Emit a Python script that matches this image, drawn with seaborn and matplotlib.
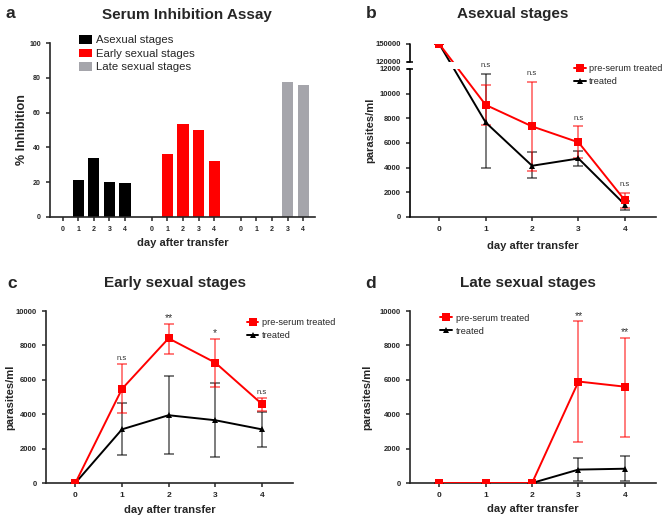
import numpy as np
import pandas as pd
import matplotlib
matplotlib.use("Agg")
import matplotlib.pyplot as plt
import seaborn as sns

# =========================
# data
# =========================
days = [0, 1, 2, 3, 4]

# a) % inhibition per stage group
inhib_asexual = [0, 21.5, 34, 20, 19.5]
inhib_early = [0, 36, 53.5, 50, 32]
inhib_late = [0, 0, 0, 77.5, 76]
stage_names = ["Asexual stages", "Early sexual stages", "Late sexual stages"]

# b) asexual stages
b_pre = [150000, 9080, 7340, 6050, 1350]
b_pre_lo = [150000, 7450, 3700, 4800, 700]
b_pre_hi = [150000, 10700, 10960, 7340, 1950]
b_trt = [150000, 7660, 4150, 4740, 1000]
b_trt_lo = [150000, 3960, 3190, 4120, 600]
b_trt_hi = [150000, 11600, 5300, 5380, 1300]
b_sig = ["", "n.s", "n.s", "n.s", "n.s"]

# c) early sexual stages
c_pre = [0, 5470, 8410, 7000, 4600]
c_pre_lo = [0, 4050, 7520, 5600, 4200]
c_pre_hi = [0, 6900, 9250, 8400, 4950]
c_trt = [0, 3120, 3940, 3650, 3120]
c_trt_lo = [0, 1630, 1690, 1500, 2100]
c_trt_hi = [0, 4630, 6240, 5800, 4150]
c_sig = ["", "n.s", "**", "*", "n.s"]

# d) late sexual stages
d_pre = [0, 0, 0, 5900, 5600]
d_pre_lo = [0, 0, 0, 2380, 2700]
d_pre_hi = [0, 0, 0, 9400, 8450]
d_trt = [0, 0, 0, 780, 830]
d_trt_lo = [0, 0, 0, 100, 100]
d_trt_hi = [0, 0, 0, 1480, 1560]
d_sig = ["", "", "", "**", "**"]

RED = "#FF0000"
BLACK = "#000000"
GREY = "#A5A5AB"

sns.set_style("ticks")
plt.rcParams["font.family"] = ["Liberation Sans", "DejaVu Sans"]
plt.rcParams["axes.linewidth"] = 1.2
plt.rcParams["xtick.major.width"] = 1.1
plt.rcParams["ytick.major.width"] = 1.1
plt.rcParams["xtick.major.size"] = 3
plt.rcParams["ytick.major.size"] = 3

W, H = 667, 518
fig = plt.figure(figsize=(W / 100, H / 100), dpi=100)


def px_axes(left, top, right, bottom):
    return fig.add_axes([left / W, 1 - bottom / H, (right - left) / W, (bottom - top) / H])


def fig_txt(x, y, s, size, **kw):
    fig.text(x / W, 1 - y / H, s, fontsize=size, fontweight="bold", ha=kw.pop("ha", "center"),
             va="center", **kw)


ax_a = px_axes(50, 43, 315, 217)
ax_b = px_axes(410, 44, 656, 217)
ax_c = px_axes(46, 311, 293, 483)
ax_d = px_axes(410, 311, 656, 483)

# =========================
# a) bar chart
# =========================
group_offsets = [0, 5.7, 11.4]
rows = []
for off, name, vals in zip(group_offsets, stage_names, [inhib_asexual, inhib_early, inhib_late]):
    for d, v in zip(days, vals):
        rows.append({"pos": off + d, "value": v, "stage": name, "day": d})
bars = pd.DataFrame(rows)

sns.barplot(data=bars, x="pos", y="value", hue="stage", native_scale=True, dodge=False,
            palette=[BLACK, RED, GREY], saturation=1, width=0.72, linewidth=0,
            errorbar=None, ax=ax_a)
ax_a.set_xlim(-0.8, 16.15)
ax_a.set_ylim(0, 100)
ax_a.set_yticks([0, 20, 40, 60, 80, 100])
ax_a.set_xticks(bars["pos"])
ax_a.set_xticklabels([str(d) for d in bars["day"]])
ax_a.set_xlabel("day after transfer", fontsize=8, fontweight="bold", va="center")
ax_a.xaxis.set_label_coords(0.5, -(243 - 217) / 174)
ax_a.set_ylabel("% Inhibition", fontsize=9, fontweight="bold", va="center")
ax_a.yaxis.set_label_coords((22 - 50) / 265, 0.5)
ax_a.tick_params(labelsize=5)
for t in ax_a.get_xticklabels() + ax_a.get_yticklabels():
    t.set_fontweight("bold")
ax_a.legend(loc="upper left", bbox_to_anchor=(0.11, 1.045), frameon=False, fontsize=8.2,
            handlelength=1.15, handleheight=0.75, handletextpad=0.3, labelspacing=0.3,
            borderpad=0, borderaxespad=0)
sns.despine(ax=ax_a)


# =========================
# line panels
# =========================
def line_panel(ax, pre, pre_lo, pre_hi, trt, trt_lo, trt_hi, sig, sig_pad):
    pre, trt = np.array(pre, float), np.array(trt, float)
    for vals, lo, hi, col in [(trt, trt_lo, trt_hi, BLACK), (pre, pre_lo, pre_hi, RED)]:
        ax.errorbar(days, vals, yerr=[vals - np.array(lo), np.array(hi) - vals], fmt="none",
                    ecolor=col, alpha=0.65, elinewidth=1.1, capsize=3.5, capthick=1.1, zorder=2)
    sns.lineplot(x=days, y=trt, color=BLACK, marker="^", markersize=5, markeredgewidth=0,
                 linewidth=1.4, label="treated", ax=ax, zorder=3)
    sns.lineplot(x=days, y=pre, color=RED, marker="s", markersize=5.5, markeredgewidth=0,
                 linewidth=1.4, label="pre-serum treated", ax=ax, zorder=4)
    tops = np.maximum(pre_hi, trt_hi)
    for d, s, t in zip(days, sig, tops):
        if s:
            star = s.startswith("*")
            ax.annotate(s, (d, t), xytext=(0, 0.5 if star else sig_pad),
                        textcoords="offset points", ha="center", va="bottom",
                        fontsize=7.5 if star else 5.5, color="#333333", zorder=9,
                        annotation_clip=False)
    ax.set_xlim(-0.63, 4.67)
    ax.set_xticks(days)
    ax.set_xlabel("day after transfer", fontsize=8, fontweight="bold", va="center")
    ax.set_ylabel("parasites/ml", fontsize=8, fontweight="bold", va="center")
    ax.tick_params(axis="x", labelsize=6)
    ax.tick_params(axis="y", labelsize=5.5)
    for t in ax.get_xticklabels() + ax.get_yticklabels():
        t.set_fontweight("bold")
    sns.despine(ax=ax)


line_panel(ax_b, b_pre, b_pre_lo, b_pre_hi, b_trt, b_trt_lo, b_trt_hi, b_sig, 3.5)
line_panel(ax_c, c_pre, c_pre_lo, c_pre_hi, c_trt, c_trt_lo, c_trt_hi, c_sig, 1.5)
line_panel(ax_d, d_pre, d_pre_lo, d_pre_hi, d_trt, d_trt_lo, d_trt_hi, d_sig, 1.5)


# b) broken y axis: 0-12000 on most of the height, 120000-150000 on top
def fwd(y):
    y = np.asarray(y, float)
    return np.where(y <= 12000, y / 12000 * 149,
                    np.where(y <= 120000, 149 + (y - 12000) / 108000 * 7,
                             156 + (y - 120000) / 30000 * 18))


def inv(v):
    v = np.asarray(v, float)
    return np.where(v <= 149, v / 149 * 12000,
                    np.where(v <= 156, 12000 + (v - 149) / 7 * 108000,
                             120000 + (v - 156) / 18 * 30000))


ax_b.set_yscale("function", functions=(fwd, inv))
ax_b.set_ylim(0, 150000)
b_ticks = [0, 2000, 4000, 6000, 8000, 10000, 12000, 120000, 150000]
ax_b.set_yticks(b_ticks)
ax_b.set_yticklabels([str(t) for t in b_ticks])
for t in ax_b.get_yticklabels():
    t.set_fontweight("bold")
ax_b.axhspan(12000, 120000, color="white", zorder=6, lw=0)
ax_b.spines["left"].set_visible(False)
ytr = ax_b.get_yaxis_transform()
for y0, y1 in [(0, 12000), (120000, 150000)]:
    ax_b.plot([0, 0], [y0, y1], color=BLACK, lw=1.2, transform=ytr, clip_on=False, zorder=7)
ax_b.plot([0, 0], [12000, 120000], ls="none", marker="_", ms=5, mew=1.1, color=BLACK,
          transform=ytr, clip_on=False, zorder=7)

ax_c.set_ylim(0, 10000)
ax_c.set_yticks([0, 2000, 4000, 6000, 8000, 10000])
ax_d.set_ylim(0, 10000)
ax_d.set_yticks([0, 2000, 4000, 6000, 8000, 10000])
for ax in (ax_c, ax_d):
    for t in ax.get_yticklabels():
        t.set_fontweight("bold")

# label positions
ax_b.xaxis.set_label_coords(0.5, -(246 - 217) / 173)
ax_b.yaxis.set_label_coords((370 - 410) / 246, 0.5)
ax_c.xaxis.set_label_coords(0.5, -(510 - 483) / 172)
ax_c.yaxis.set_label_coords((10 - 46) / 247, 0.5)
ax_d.xaxis.set_label_coords(0.5, -(509 - 483) / 172)
ax_d.yaxis.set_label_coords((367 - 410) / 246, 0.5)

# legends (pre-serum first)
leg_kw = dict(frameon=False, fontsize=6.6, handlelength=1.3, handletextpad=0.4,
              labelspacing=0.45, borderpad=0, borderaxespad=0, loc="upper left")
for ax, anchor in [(ax_b, (0.665, 0.885)), (ax_c, (0.812, 0.96)), (ax_d, (0.122, 0.985))]:
    h, l = ax.get_legend_handles_labels()
    leg = ax.legend(h[::-1], l[::-1], bbox_to_anchor=anchor, **leg_kw)
    leg.set_zorder(10)

# titles and panel letters
fig_txt(187, 15, "Serum Inhibition Assay", 11)
fig_txt(513, 14, "Asexual stages", 11)
fig_txt(175, 283, "Early sexual stages", 11)
fig_txt(528, 283, "Late sexual stages", 11)
fig_txt(10, 13, "a", 12.5)
fig_txt(371, 13, "b", 12.5)
fig_txt(12, 283, "c", 12.5)
fig_txt(371, 283, "d", 12.5)

fig.savefig("out.png", dpi=100)
